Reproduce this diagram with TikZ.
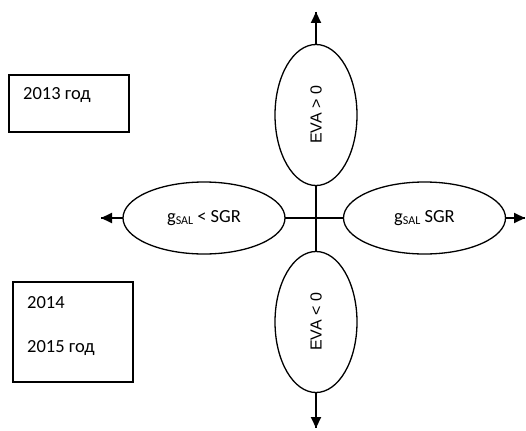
\documentclass[tikz,border=0pt]{standalone}
\usepackage{fontspec}
\setmainfont{Carlito}
\newfontfamily\arialfont{Liberation Sans}
\usetikzlibrary{shapes.geometric,arrows.meta}

\tikzset{
  yearbox/.style={draw, line width=1.2pt},
  yeartext/.style={anchor=base west, inner sep=0pt, font=\fontsize{18.5}{22}\selectfont},
  oval/.style={draw, ellipse, line width=1.3pt, fill=white, inner sep=0pt},
  hoval/.style={oval, minimum width=162pt, minimum height=72pt, font=\fontsize{18.5}{22}\selectfont},
  voval/.style={oval, minimum width=82pt, minimum height=141pt, font=\arialfont\fontsize{16}{18}\selectfont},
  axis/.style={line width=2pt},
  axisarrow/.style={axis, -{Triangle[width=10pt,length=11pt]}}
}
\newcommand{\gsal}{g\raisebox{-2.5pt}{\fontsize{12}{12}\selectfont SAL}}

\begin{document}
\begin{tikzpicture}[x=1pt,y=-1pt]
  \useasboundingbox (0,0) rectangle (526,430);

  % year boxes
  \draw[yearbox] (9,75) rectangle (129,132);
  \node[yeartext] (y2013) at (23,100) {2013 год};
  \draw[yearbox] (13,282) rectangle (133,382);
  \node[yeartext] (y2014) at (27,308) {2014};
  \node[yeartext] (y2015) at (27,352) {2015 год};

  % end points of the axes
  \coordinate (ttip) at (316,12);
  \coordinate (btip) at (316,428);
  \coordinate (ltip) at (101,218);
  \coordinate (rtip) at (525,218);

  % axes through the centre
  \draw[axis] (ttip) -- (btip);
  \draw[axis] (ltip) -- (rtip);

  % the four ovals
  \node[voval] (up) at (316,115) {\rotatebox{90}{EVA > 0}};
  \node[voval] (down) at (316,322) {\rotatebox{90}{EVA < 0}};
  \node[hoval] (left) at (204,218) {\gsal{} < SGR};
  \node[hoval] (right) at (424.5,218) {\gsal{} SGR};

  % arrow heads on the outer ends
  \draw[axisarrow] (up.north) -- (ttip);
  \draw[axisarrow] (down.south) -- (btip);
  \draw[axisarrow] (left.west) -- (ltip);
  \draw[axisarrow] (right.east) -- (rtip);
\end{tikzpicture}
\end{document}
